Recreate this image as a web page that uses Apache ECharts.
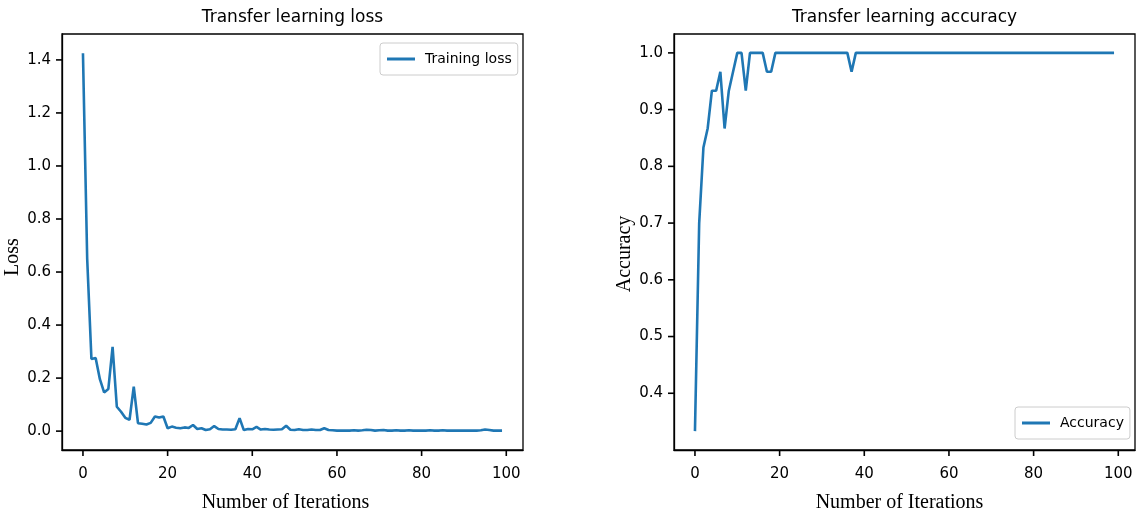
<!DOCTYPE html>
<html>
<head>
<meta charset="utf-8">
<script src="https://cdn.jsdelivr.net/npm/echarts@6/dist/echarts.min.js"></script>
<style>
html,body{margin:0;padding:0;background:#fff;}
#chart{width:1138px;height:518px;}
</style>
</head>
<body>
<div id="chart"></div>
<script>
// ---- data ----
const lossValues = [
  1.425, 0.65, 0.272, 0.276, 0.196, 0.146, 0.159, 0.318, 0.092, 0.073,
  0.050, 0.043, 0.168, 0.030, 0.028, 0.025, 0.031, 0.055, 0.051, 0.055,
  0.011, 0.017, 0.013, 0.011, 0.014, 0.012, 0.023, 0.008, 0.011, 0.004,
  0.007, 0.019, 0.008, 0.006, 0.006, 0.005, 0.007, 0.049, 0.004, 0.008,
  0.007, 0.016, 0.006, 0.008, 0.006, 0.005, 0.006, 0.007, 0.020, 0.005,
  0.004, 0.007, 0.004, 0.004, 0.006, 0.004, 0.004, 0.011, 0.004, 0.003,
  0.002, 0.002, 0.002, 0.002, 0.003, 0.002, 0.003, 0.005, 0.004, 0.002,
  0.003, 0.004, 0.002, 0.002, 0.003, 0.002, 0.002, 0.003, 0.002, 0.002,
  0.002, 0.002, 0.003, 0.002, 0.002, 0.003, 0.002, 0.002, 0.002, 0.002,
  0.002, 0.002, 0.002, 0.002, 0.003, 0.006, 0.004, 0.002, 0.002, 0.002
];
const accuracyValues = [
  0.3333, 0.7, 0.8333, 0.8667, 0.9333, 0.9333, 0.9667, 0.8667, 0.9333, 0.9667,
  1.0, 1.0, 0.9333, 1.0, 1.0, 1.0, 1.0, 0.9667, 0.9667, 1.0,
  1.0, 1.0, 1.0, 1.0, 1.0, 1.0, 1.0, 1.0, 1.0, 1.0,
  1.0, 1.0, 1.0, 1.0, 1.0, 1.0, 1.0, 0.9667, 1.0, 1.0,
  1.0, 1.0, 1.0, 1.0, 1.0, 1.0, 1.0, 1.0, 1.0, 1.0,
  1.0, 1.0, 1.0, 1.0, 1.0, 1.0, 1.0, 1.0, 1.0, 1.0,
  1.0, 1.0, 1.0, 1.0, 1.0, 1.0, 1.0, 1.0, 1.0, 1.0,
  1.0, 1.0, 1.0, 1.0, 1.0, 1.0, 1.0, 1.0, 1.0, 1.0,
  1.0, 1.0, 1.0, 1.0, 1.0, 1.0, 1.0, 1.0, 1.0, 1.0,
  1.0, 1.0, 1.0, 1.0, 1.0, 1.0, 1.0, 1.0, 1.0, 1.0
];
const xTicks = [0, 20, 40, 60, 80, 100];
const lossTicks = [0.0, 0.2, 0.4, 0.6, 0.8, 1.0, 1.2, 1.4];
const accTicks = [0.4, 0.5, 0.6, 0.7, 0.8, 0.9, 1.0];
const titles = ['Transfer learning loss', 'Transfer learning accuracy'];
const seriesNames = ['Training loss', 'Accuracy'];
const xName = 'Number of Iterations';
const yNames = ['Loss', 'Accuracy'];

// ---- chart ----
const BLUE = '#1f77b4';
const sans = 'DejaVu Sans';
const serif = 'Liberation Serif';
const X_MIN = -4.95, X_MAX = 103.95;
const LOSS_MIN = -0.0712, LOSS_MAX = 1.4977;
const ACC_MIN = 0.3, ACC_MAX = 1.0333;
const TICK_LEN = 6;
const toPairs = arr => arr.map((v, i) => [i, v]);
const axisLineStyle = {show: true, onZero: false, lineStyle: {color: '#000', width: 1.3}};

function xAxisCfg(gi, namePad) {
  return {
    gridIndex: gi, type: 'value', min: X_MIN, max: X_MAX,
    name: xName, nameLocation: 'middle', nameGap: 43,
    nameTextStyle: {fontFamily: serif, fontSize: 20, color: '#000', padding: namePad},
    axisLine: axisLineStyle,
    splitLine: {show: false},
    axisTick: {show: false},
    axisLabel: {customValues: xTicks, margin: 17, fontFamily: sans, fontSize: 15, color: '#000'}
  };
}
function yAxisCfg(gi, name, min, max, ticks, namePad) {
  return {
    gridIndex: gi, type: 'value', min: min, max: max,
    name: name, nameLocation: 'middle', nameGap: 33,
    nameTextStyle: {fontFamily: serif, fontSize: 20, color: '#000', padding: namePad},
    axisLine: axisLineStyle,
    splitLine: {show: false},
    axisTick: {show: false},
    axisLabel: {customValues: ticks, margin: 11, fontFamily: sans, fontSize: 15, color: '#000',
      formatter: v => Number(v).toFixed(1)}
  };
}
const legendBase = {
  orient: 'horizontal', selectedMode: false,
  backgroundColor: '#fff', borderColor: '#cccccc', borderWidth: 1, borderRadius: 3,
  padding: [9, 6, 9, 7], itemWidth: 28, itemHeight: 3, icon: 'rect',
  textStyle: {fontFamily: sans, fontSize: 14, color: '#000', padding: [0, 0, 0, 5]}
};

const chart = echarts.init(document.getElementById('chart'), null, {renderer: 'canvas'});
chart.setOption({
  animation: false,
  backgroundColor: '#fff',
  tooltip: {show: false},
  title: [
    {text: titles[0], left: 292.5, textAlign: 'center', top: 9, padding: 0,
     textStyle: {fontFamily: sans, fontSize: 17, fontWeight: 'normal', color: '#000'}},
    {text: titles[1], left: 904.5, textAlign: 'center', top: 9, padding: 0,
     textStyle: {fontFamily: sans, fontSize: 17, fontWeight: 'normal', color: '#000'}}
  ],
  legend: [
    Object.assign({}, legendBase, {data: [seriesNames[0]], left: 380, top: 43}),
    Object.assign({}, legendBase, {data: [seriesNames[1]], left: 1015, top: 407})
  ],
  grid: [
    {left: 62, top: 34, width: 461, height: 417, show: true, borderColor: '#000', borderWidth: 1.3, backgroundColor: 'transparent'},
    {left: 674, top: 34, width: 461, height: 417, show: true, borderColor: '#000', borderWidth: 1.3, backgroundColor: 'transparent'}
  ],
  xAxis: [xAxisCfg(0, [0, 14, 0, 0]), xAxisCfg(1, [0, 10, 0, 0])],
  yAxis: [
    yAxisCfg(0, yNames[0], LOSS_MIN, LOSS_MAX, lossTicks, [0, 30, 0, 0]),
    yAxisCfg(1, yNames[1], ACC_MIN, ACC_MAX, accTicks, [0, 24, 0, 0])
  ],
  series: [
    {name: seriesNames[0], type: 'line', xAxisIndex: 0, yAxisIndex: 0, data: toPairs(lossValues),
     showSymbol: false, symbol: 'none', lineStyle: {color: BLUE, width: 2.6}, itemStyle: {color: BLUE}},
    {name: seriesNames[1], type: 'line', xAxisIndex: 1, yAxisIndex: 1, data: toPairs(accuracyValues),
     showSymbol: false, symbol: 'none', lineStyle: {color: BLUE, width: 2.6}, itemStyle: {color: BLUE}}
  ]
});

// tick marks, positioned through the axes' own scales (convertToPixel)
const tickElements = [];
const panels = [
  {gi: 0, yMin: LOSS_MIN, yTicks: lossTicks},
  {gi: 1, yMin: ACC_MIN, yTicks: accTicks}
];
panels.forEach(pn => {
  xTicks.forEach(v => {
    const p = chart.convertToPixel({gridIndex: pn.gi}, [v, pn.yMin]);
    tickElements.push({type: 'line', silent: true, z: 100,
      shape: {x1: p[0], y1: p[1], x2: p[0], y2: p[1] + TICK_LEN},
      style: {stroke: '#000', lineWidth: 1.6}});
  });
  pn.yTicks.forEach(v => {
    const p = chart.convertToPixel({gridIndex: pn.gi}, [X_MIN, v]);
    tickElements.push({type: 'line', silent: true, z: 100,
      shape: {x1: p[0] - TICK_LEN, y1: p[1], x2: p[0], y2: p[1]},
      style: {stroke: '#000', lineWidth: 1.6}});
  });
});
chart.setOption({graphic: {elements: tickElements}});
</script>
</body>
</html>
